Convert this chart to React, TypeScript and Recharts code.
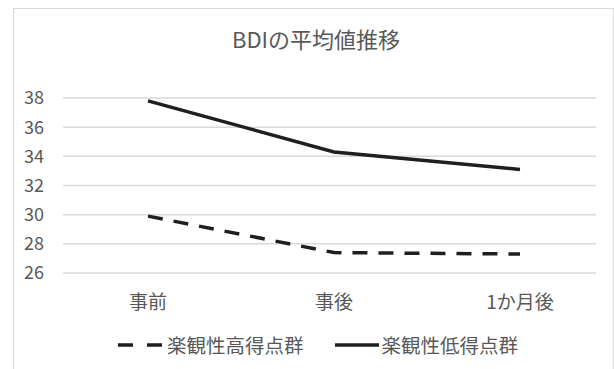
import { CartesianGrid, Line, LineChart, XAxis, YAxis } from "recharts";

const periods = ["事前", "事後", "1か月後"];
const highScoreGroup = [29.9, 27.4, 27.3];
const lowScoreGroup = [37.8, 34.3, 33.1];
const yTicks = [26, 28, 30, 32, 34, 36, 38];

const FONT = '"Noto Sans CJK JP", "Noto Sans", sans-serif';
const TEXT = "#595959";
const GRID = "#d9d9d9";
const LINE = "#1f1f1f";

const chartData = periods.map((period, i) => ({
  period,
  high: highScoreGroup[i],
  low: lowScoreGroup[i],
}));

function LegendBox() {
  return (
    <div
      style={{
        position: "absolute",
        left: 118,
        top: 332,
        display: "flex",
        alignItems: "center",
        fontFamily: FONT,
        fontSize: 19.5,
        lineHeight: "26px",
        color: TEXT,
        whiteSpace: "nowrap",
      }}
    >
      <svg width={46} height={10} style={{ marginRight: 3 }}>
        <line x1={0} y1={5} x2={46} y2={5} stroke={LINE} strokeWidth={3.5} strokeDasharray="15 14" />
      </svg>
      <span>楽観性高得点群</span>
      <svg width={44} height={10} style={{ marginLeft: 31, marginRight: 3 }}>
        <line x1={0} y1={5} x2={44} y2={5} stroke={LINE} strokeWidth={3.5} />
      </svg>
      <span>楽観性低得点群</span>
    </div>
  );
}

export default function App() {
  return (
    <div
      style={{
        position: "fixed",
        left: 0,
        top: 0,
        width: 614,
        height: 369,
        overflow: "hidden",
        background: "#fff",
      }}
    >
      <div
        style={{
          position: "absolute",
          left: 13,
          top: 8,
          width: 599,
          height: 420,
          border: `1px solid ${GRID}`,
        }}
      />
      <div
        style={{
          position: "absolute",
          left: 0,
          top: 22,
          width: 614,
          textAlign: "center",
          fontFamily: FONT,
          fontSize: 22,
          color: TEXT,
          paddingLeft: 18,
          boxSizing: "border-box",
        }}
      >
        BDIの平均値推移
      </div>
      <LineChart
        width={614}
        height={369}
        data={chartData}
        margin={{ top: 98, right: 18, bottom: 66, left: 0 }}
        style={{ position: "absolute", left: 0, top: 0 }}
      >
        <CartesianGrid vertical={false} stroke={GRID} strokeWidth={1.5} />
        <XAxis
          dataKey="period"
          height={30}
          axisLine={false}
          tickLine={false}
          tickSize={0}
          tickMargin={23}
          padding={{ left: 85, right: 76 }}
          tick={{ fontSize: 19, fill: TEXT, fontFamily: FONT }}
        />
        <YAxis
          width={63}
          domain={[26, 38]}
          ticks={yTicks}
          interval={0}
          axisLine={false}
          tickLine={false}
          tickSize={0}
          tickMargin={19}
          tick={{ fontSize: 18, fill: TEXT, fontFamily: FONT }}
        />
        <Line
          dataKey="high"
          name="楽観性高得点群"
          stroke={LINE}
          strokeWidth={3.5}
          strokeDasharray="15 11"
          dot={false}
          isAnimationActive={false}
        />
        <Line
          dataKey="low"
          name="楽観性低得点群"
          stroke={LINE}
          strokeWidth={3.5}
          dot={false}
          isAnimationActive={false}
        />
      </LineChart>
      <LegendBox />
    </div>
  );
}
